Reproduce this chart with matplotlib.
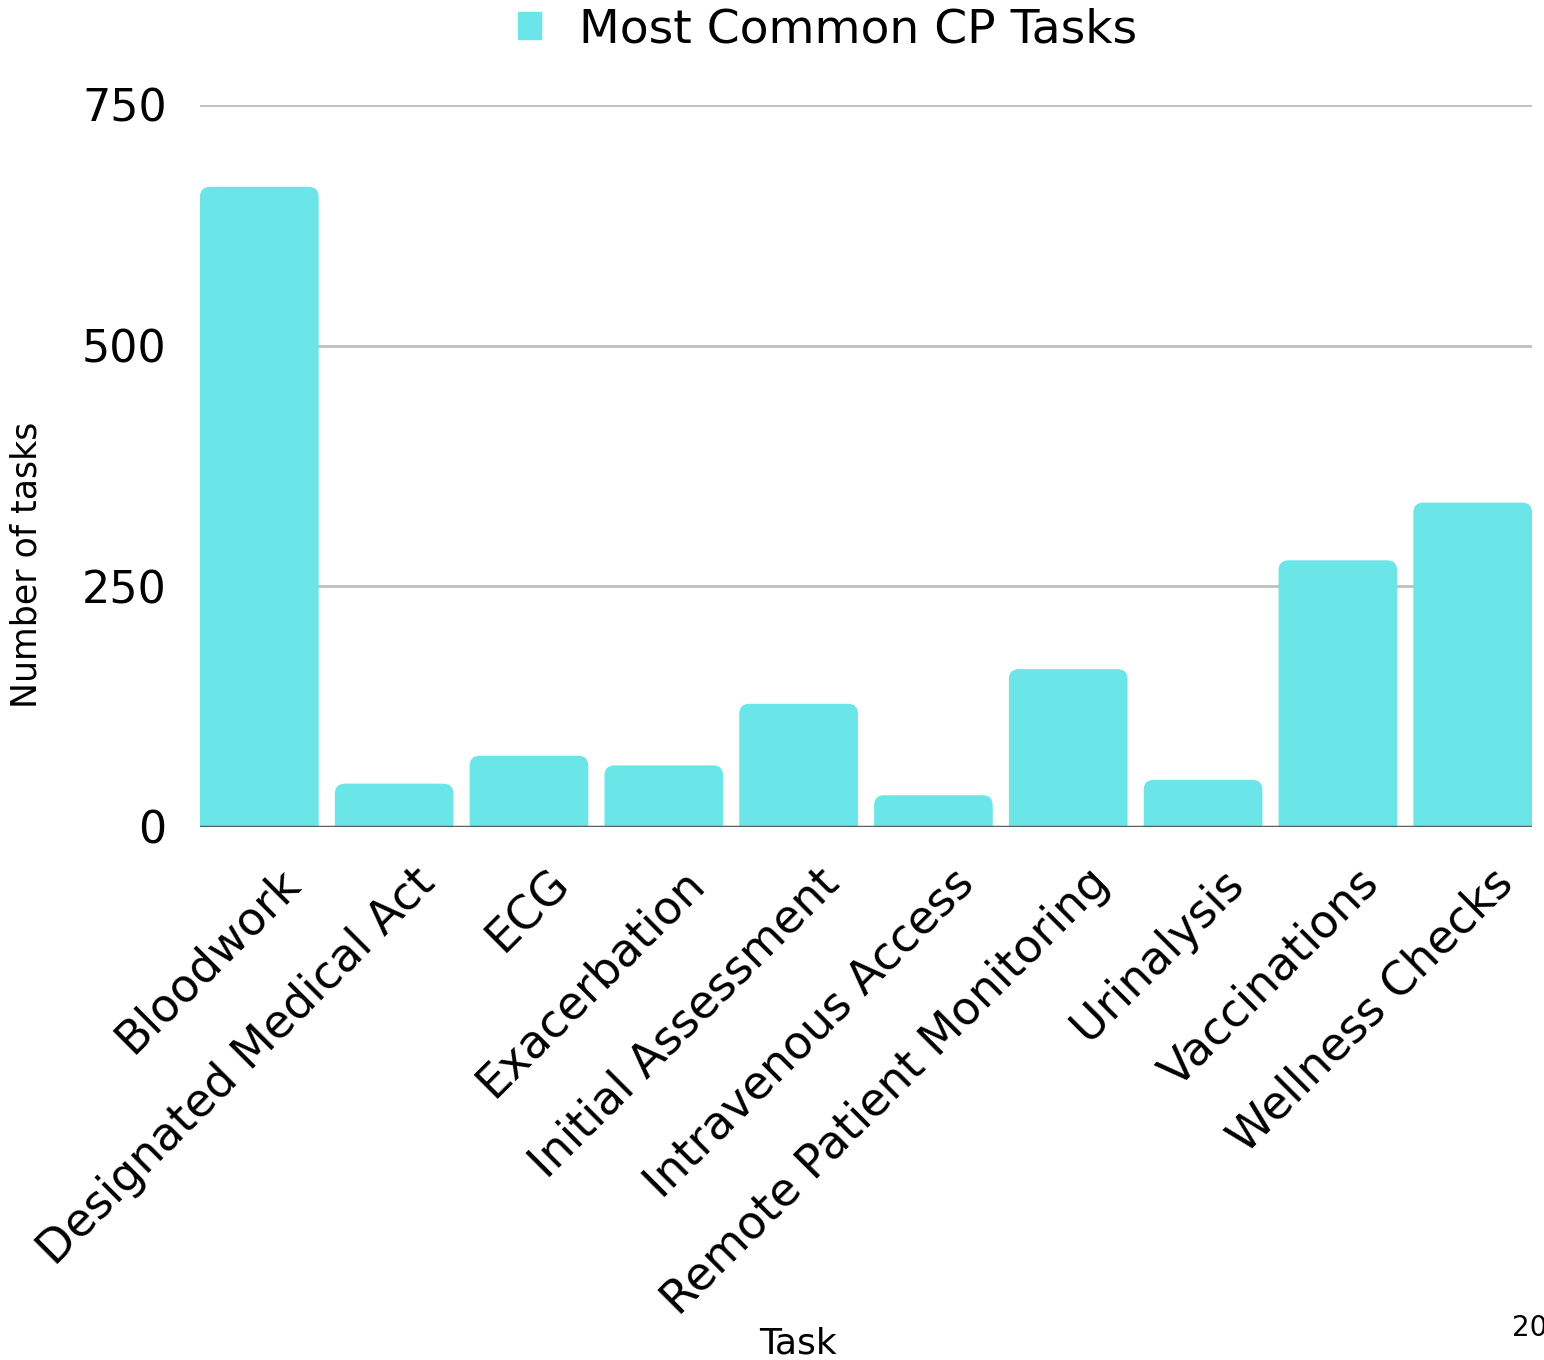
import numpy as np
import matplotlib
matplotlib.use("Agg")
from matplotlib import pyplot as plt
from matplotlib.patches import FancyBboxPatch
from matplotlib.transforms import ScaledTranslation

tasks = ["Bloodwork", "Designated Medical Act", "ECG", "Exacerbation",
         "Initial Assessment", "Intravenous Access", "Remote Patient Monitoring",
         "Urinalysis", "Vaccinations", "Wellness Checks"]
counts = [665, 45, 74, 64, 128, 33, 164, 49, 277, 337]
y_ticks = [0, 250, 500, 750]

bar_color = "#6be5e8"
plt.rcParams['font.family'] = ['DejaVu Sans']

fig = plt.figure(figsize=(15.44, 13.6), dpi=100)
ax = fig.add_axes([200/1544, 1 - 827/1360, 1332/1544, 722/1360])

w = 0.88
x = np.arange(len(tasks))
bars = ax.bar(x, counts, width=w, color=bar_color, label="Most Common CP Tasks", zorder=2)

ax.set_xlim(-w/2, len(tasks) - 1 + w/2)
ax.set_ylim(0, 750)

# swap plain bars for ones with rounded top corners
px_x = 1332 / (len(tasks) - 1 + w)
px_y = 722 / 750
r = 10 / px_x
for b in bars:
    b.set_visible(False)
    p = FancyBboxPatch((b.get_x(), -30), b.get_width(), b.get_height() + 30,
                       boxstyle="round,pad=0,rounding_size=%f" % r,
                       mutation_aspect=px_x / px_y,
                       facecolor=bar_color, edgecolor="none", zorder=2)
    ax.add_patch(p)

ax.set_yticks(y_ticks)
ax.set_yticklabels([str(v) for v in y_ticks], fontsize=32)
ax.grid(axis="y", color="#c0c0c0", linewidth=2, zorder=0)
ax.axhline(0, color="#606060", linewidth=2.5, zorder=3)
for s in ax.spines.values():
    s.set_visible(False)
ax.tick_params(axis="y", length=0, pad=24)
ax.tick_params(axis="x", length=0, pad=24)
ax.set_xticks(x)
ax.set_xticklabels(tasks, rotation=45, ha="right", rotation_mode="anchor", fontsize=33)
for lab in ax.get_xticklabels():
    lab.set_transform(lab.get_transform() + ScaledTranslation(0.18, 0, fig.dpi_scale_trans))

fig.text(27/1544, 1 - 565/1360, "Number of tasks", fontsize=25, rotation=90,
         ha="center", va="center")
fig.text(798/1544, 1 - 1343/1360, "Task", fontsize=26, ha="center", va="center")
fig.text(1512/1544, 1 - 1328/1360, "2023", fontsize=20, ha="left", va="center")

handle = plt.Rectangle((0, 0), 1, 1, color=bar_color)
fig.legend([handle], ["Most Common CP Tasks"], loc="center", bbox_to_anchor=(0.536, 1 - 30/1360),
           frameon=False, fontsize=34, handlelength=0.5, handleheight=0.5, handletextpad=0.8)

fig.savefig("out.png", dpi=100)
